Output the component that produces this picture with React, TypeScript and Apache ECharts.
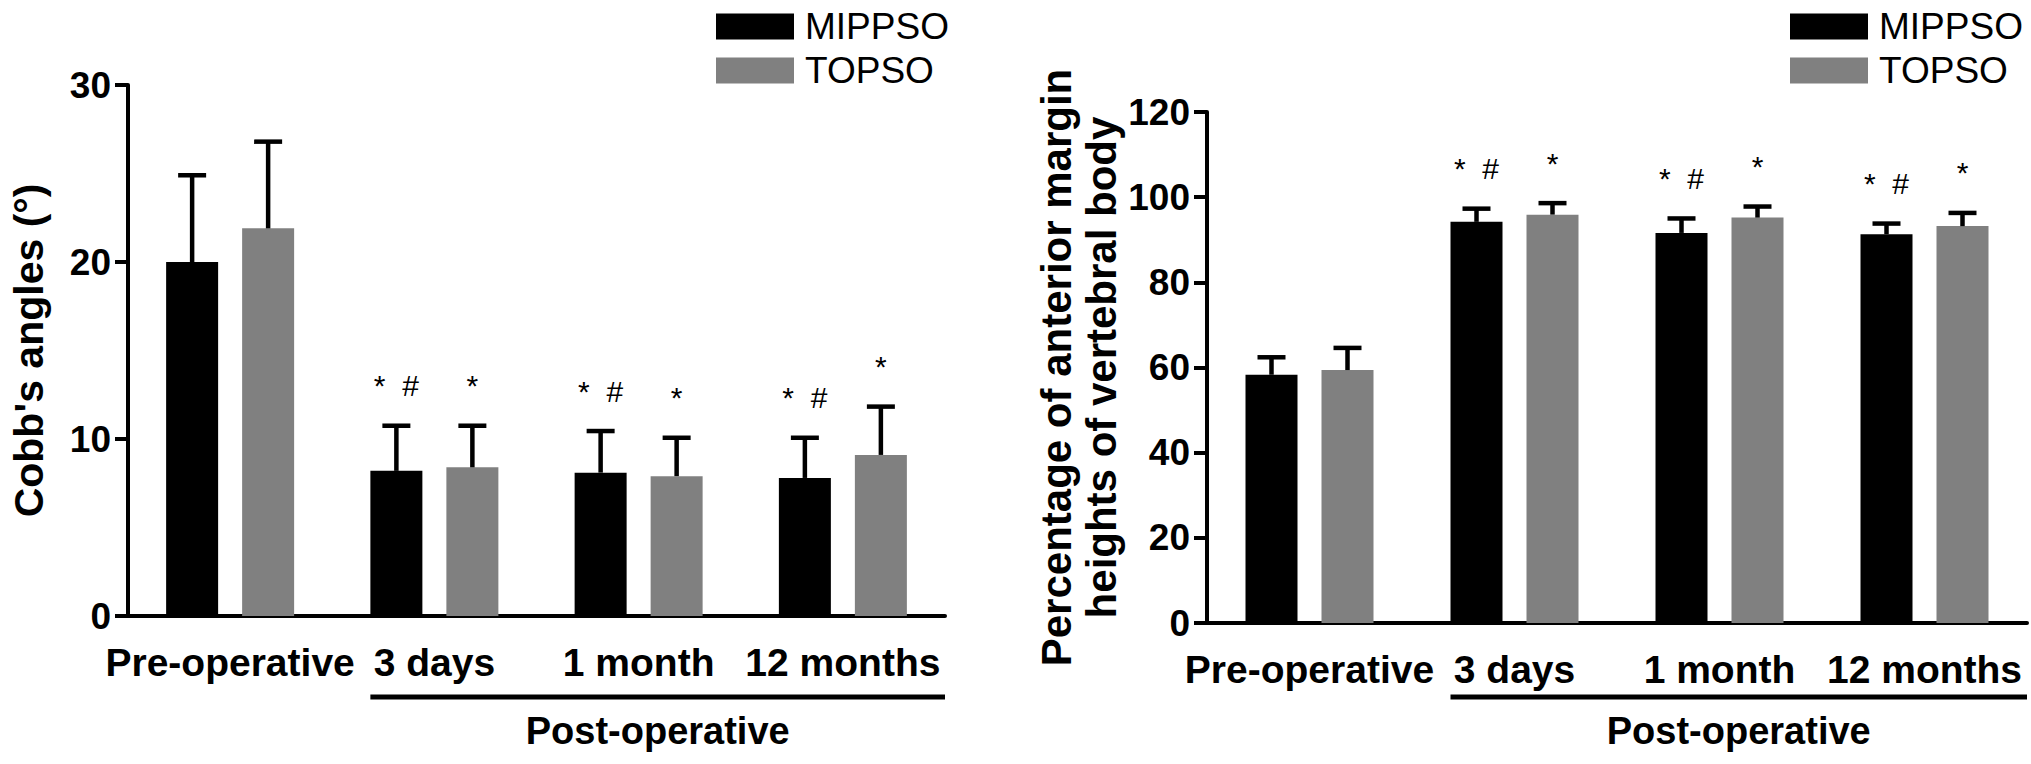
import { useEffect, useRef } from "react";
import * as echarts from "echarts";

const categories = ["Pre-operative", "3 days", "1 month", "12 months"];
const groups = ["MIPPSO", "TOPSO"];

// Cobb's angles (°): mean and SD
const cobbMippso = [20.0, 8.2, 8.1, 7.8];
const cobbMippsoSd = [4.9, 2.55, 2.35, 2.27];
const cobbTopso = [21.9, 8.4, 7.9, 9.1];
const cobbTopsoSd = [4.9, 2.35, 2.17, 2.73];

// anterior margin height percentage: mean and SD
const heightMippso = [58.3, 94.2, 91.6, 91.3];
const heightMippsoSd = [4.1, 3.1, 3.4, 2.5];
const heightTopso = [59.4, 95.9, 95.2, 93.2];
const heightTopsoSd = [5.2, 2.7, 2.6, 3.1];

// significance marks
const marksMippso = ["", "*  #", "*  #", "*  #"];
const marksTopso = ["", "*", "*", "*"];

const FONT = '"Liberation Sans", Arial, Helvetica, sans-serif';
const BAR_W = 52;
const BAR_GAP = 24;
const SHIFT = (BAR_W + BAR_GAP) / 2;
const W = 2031;
const H = 764;
const BRACKET_Y = 697;
const POST_LABEL_Y = 731;

function barSeries(name: string, axis: number, data: number[], color: string) {
  return {
    type: "bar",
    name,
    xAxisIndex: axis,
    yAxisIndex: axis,
    data,
    barWidth: BAR_W,
    barGap: `${(BAR_GAP / BAR_W) * 100}%`,
    itemStyle: { color },
  };
}

function errorSeries(name: string, axis: number, means: number[], sds: number[], marks: string[], side: number) {
  return {
    type: "custom",
    name,
    xAxisIndex: axis,
    yAxisIndex: axis,
    z: 5,
    data: means.map((m, i) => [i, m, m + sds[i]]),
    renderItem: (params: any, api: any) => {
      const base = api.coord([api.value(0), api.value(1)]);
      const top = api.coord([api.value(0), api.value(2)]);
      const x = base[0] + side * SHIFT;
      const children: any[] = [
        { type: "line", shape: { x1: x, y1: base[1], x2: x, y2: top[1] }, style: { stroke: "#000", lineWidth: 4.5 } },
        { type: "line", shape: { x1: x - 14, y1: top[1], x2: x + 14, y2: top[1] }, style: { stroke: "#000", lineWidth: 4.5 } },
      ];
      const mark = marks[params.dataIndex];
      if (mark) {
        children.push({
          type: "text",
          x,
          y: top[1] - 40,
          style: { text: mark, fontSize: 30, fontFamily: FONT, fill: "#000", align: "center", verticalAlign: "middle" },
        });
      }
      return { type: "group", children };
    },
  };
}

function xAxis(gridIndex: number) {
  return {
    gridIndex,
    type: "category",
    data: categories,
    axisLine: { lineStyle: { color: "#000", width: 4 } },
    axisTick: { alignWithLabel: true, length: 13, lineStyle: { color: "#000", width: 4 } },
    axisLabel: { interval: 0, fontSize: 39, fontWeight: "bold", color: "#000", fontFamily: FONT, margin: 27 },
  };
}

function yAxis(gridIndex: number, max: number, interval: number, name: string, nameGap: number, nameSize: number) {
  return {
    gridIndex,
    type: "value",
    min: 0,
    max,
    interval,
    name,
    nameLocation: "middle",
    nameRotate: 90,
    nameGap,
    nameTextStyle: { fontSize: nameSize, fontWeight: "bold", color: "#000", fontFamily: FONT, lineHeight: 45 },
    axisLine: { show: true, lineStyle: { color: "#000", width: 4 } },
    axisTick: { show: true, length: 13, lineStyle: { color: "#000", width: 4 } },
    axisLabel: { fontSize: 37, fontWeight: "bold", color: "#000", fontFamily: FONT, margin: 17 },
    splitLine: { show: false },
  };
}

function legend(left: number) {
  return {
    left,
    top: 8,
    orient: "vertical",
    icon: "rect",
    itemWidth: 78,
    itemHeight: 26,
    itemGap: 7,
    padding: 0,
    selectedMode: false,
    data: groups,
    textStyle: { fontSize: 37, color: "#000", fontFamily: FONT, padding: [0, 0, 0, 6] },
  };
}

export default function App() {
  const chartRef = useRef<HTMLDivElement>(null);

  useEffect(() => {
    if (!chartRef.current) return;
    const chart = echarts.init(chartRef.current, null, { renderer: "svg" });

    const option: any = {
      animation: false,
      backgroundColor: "#fff",
      textStyle: { fontFamily: FONT },
      legend: [legend(716), legend(1790)],
      grid: [
        { left: 128, right: W - 945, top: 85, bottom: H - 616 },
        { left: 1207, right: 4, top: 112, bottom: H - 623 },
      ],
      xAxis: [xAxis(0), xAxis(1)],
      yAxis: [
        yAxis(0, 30, 10, "Cobb's angles (°)", 77, 41),
        yAxis(1, 120, 20, "Percentage of anterior margin\nheights of vertebral body", 74, 42),
      ],
      series: [
        barSeries(groups[0], 0, cobbMippso, "#000"),
        barSeries(groups[1], 0, cobbTopso, "#808080"),
        barSeries(groups[0], 1, heightMippso, "#000"),
        barSeries(groups[1], 1, heightTopso, "#808080"),
        errorSeries("cobb-mippso-sd", 0, cobbMippso, cobbMippsoSd, marksMippso, -1),
        errorSeries("cobb-topso-sd", 0, cobbTopso, cobbTopsoSd, marksTopso, 1),
        errorSeries("height-mippso-sd", 1, heightMippso, heightMippsoSd, marksMippso, -1),
        errorSeries("height-topso-sd", 1, heightTopso, heightTopsoSd, marksTopso, 1),
      ],
    };

    chart.setOption(option);

    // "Post-operative" bracket under the last three categories
    const bracket = (axis: number) => {
      const c3 = chart.convertToPixel({ xAxisIndex: axis }, categories[1]) as number;
      const c1m = chart.convertToPixel({ xAxisIndex: axis }, categories[2]) as number;
      const c12 = chart.convertToPixel({ xAxisIndex: axis }, categories[3]) as number;
      const band = c12 - c1m;
      const x1 = c3 - SHIFT - BAR_W / 2;
      const x2 = c12 + band / 2;
      return [
        { type: "line", shape: { x1, y1: BRACKET_Y, x2, y2: BRACKET_Y }, style: { stroke: "#000", lineWidth: 5 } },
        {
          type: "text",
          x: (x1 + x2) / 2,
          y: POST_LABEL_Y,
          style: {
            text: "Post-operative",
            fontSize: 38,
            fontWeight: "bold",
            fontFamily: FONT,
            fill: "#000",
            align: "center",
            verticalAlign: "middle",
          },
        },
      ];
    };
    chart.setOption({ graphic: [...bracket(0), ...bracket(1)] });

    return () => {
      chart.dispose();
    };
  }, []);

  return (
    <div
      ref={chartRef}
      style={{ position: "fixed", left: 0, top: 0, width: `${W}px`, height: `${H}px`, background: "#fff" }}
    />
  );
}
